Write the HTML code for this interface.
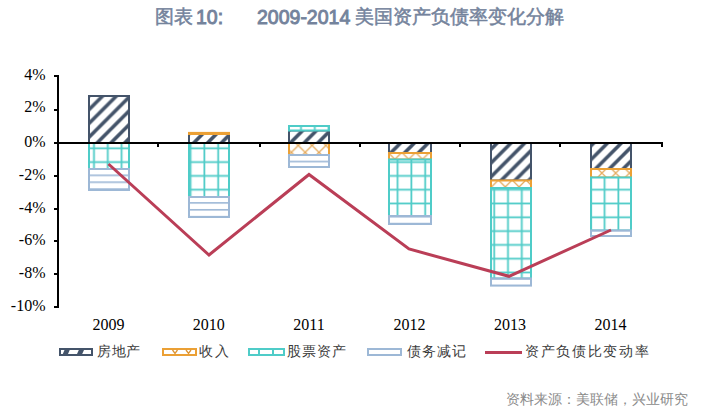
<!DOCTYPE html>
<html><head><meta charset="utf-8"><style>
html,body{margin:0;padding:0;background:#fff;}
body{width:702px;height:411px;overflow:hidden;position:relative;}
svg{position:absolute;left:0;top:0;}
.serif{font-family:"Liberation Serif",serif;font-size:16px;fill:#000;}
.t{position:absolute;white-space:nowrap;font-family:"Liberation Sans",sans-serif;}
</style></head><body>
<svg width="702" height="411" viewBox="0 0 702 411">
<defs>
<pattern id="ph" patternUnits="userSpaceOnUse" width="13.8" height="13.8">
<rect width="13.8" height="13.8" fill="#fff"/><path d="M2.90,0 L7.90,0 L-5.90,13.8 L-10.90,13.8Z M16.70,0 L21.70,0 L7.90,13.8 L2.90,13.8Z M30.50,0 L35.50,0 L21.70,13.8 L16.70,13.8Z" fill="#44546A"/></pattern>
<pattern id="pt" patternUnits="userSpaceOnUse" width="13.8" height="13.8">
<rect width="13.8" height="13.8" fill="#fff"/><rect x="10.3" y="0" width="1.8" height="13.8" fill="#4FCCC8"/><rect x="0" y="9.4" width="13.8" height="1.8" fill="#4FCCC8"/></pattern>
<pattern id="pl" patternUnits="userSpaceOnUse" width="13.8" height="6.9">
<rect width="13.8" height="6.9" fill="#fff"/><rect x="0" y="2.0" width="13.8" height="1.6" fill="#9DB8D6"/></pattern>
<pattern id="po" patternUnits="userSpaceOnUse" width="13.8" height="13.8" x="1.6" y="0.6">
<rect width="13.8" height="13.8" fill="#fff"/>
<path d="M0,0 L13.8,13.8 M-6.9,6.9 L6.9,20.700000000000003 M6.9,-6.9 L20.700000000000003,6.9 M13.8,0 L0,13.8 M20.700000000000003,6.9 L6.9,20.700000000000003 M6.9,-6.9 L-6.9,6.9" stroke="#DE9534" stroke-width="1.3" opacity="0.8"/></pattern>
</defs>
<rect x="89" y="96" width="40" height="47" fill="url(#ph)" stroke="#44546A" stroke-width="2"/><rect x="189" y="134" width="40" height="9" fill="url(#ph)" stroke="#44546A" stroke-width="2"/><rect x="289" y="130.5" width="40" height="12.5" fill="url(#ph)" stroke="#44546A" stroke-width="2"/><rect x="389" y="143" width="42" height="10" fill="url(#ph)" stroke="#44546A" stroke-width="2"/><rect x="491" y="143" width="40" height="37.5" fill="url(#ph)" stroke="#44546A" stroke-width="2"/><rect x="591" y="143" width="40" height="26" fill="url(#ph)" stroke="#44546A" stroke-width="2"/><rect x="189" y="132.9" width="40" height="1.0999999999999943" fill="url(#po)" stroke="#EBA035" stroke-width="2"/><rect x="289" y="143" width="40" height="12" fill="url(#po)" stroke="#EBA035" stroke-width="2"/><rect x="389" y="153" width="42" height="6.5" fill="url(#po)" stroke="#EBA035" stroke-width="2"/><rect x="491" y="180.5" width="40" height="7.5" fill="url(#po)" stroke="#EBA035" stroke-width="2"/><rect x="591" y="169" width="40" height="8.5" fill="url(#po)" stroke="#EBA035" stroke-width="2"/><rect x="89" y="143" width="40" height="26" fill="url(#pt)" stroke="#4FCCC8" stroke-width="2"/><rect x="189" y="143" width="40" height="54" fill="url(#pt)" stroke="#4FCCC8" stroke-width="2"/><rect x="289" y="126" width="40" height="4.5" fill="url(#pt)" stroke="#4FCCC8" stroke-width="2"/><rect x="389" y="159.5" width="42" height="56.5" fill="url(#pt)" stroke="#4FCCC8" stroke-width="2"/><rect x="491" y="188" width="40" height="90.5" fill="url(#pt)" stroke="#4FCCC8" stroke-width="2"/><rect x="591" y="177.5" width="40" height="53.0" fill="url(#pt)" stroke="#4FCCC8" stroke-width="2"/><rect x="89" y="169" width="40" height="21" fill="url(#pl)" stroke="#9DB8D6" stroke-width="2"/><rect x="189" y="197" width="40" height="20" fill="url(#pl)" stroke="#9DB8D6" stroke-width="2"/><rect x="289" y="155" width="40" height="12" fill="url(#pl)" stroke="#9DB8D6" stroke-width="2"/><rect x="389" y="216" width="42" height="8" fill="url(#pl)" stroke="#9DB8D6" stroke-width="2"/><rect x="491" y="278.5" width="40" height="7.100000000000023" fill="url(#pl)" stroke="#9DB8D6" stroke-width="2"/><rect x="591" y="230.5" width="40" height="5.5" fill="url(#pl)" stroke="#9DB8D6" stroke-width="2"/>
<rect x="57" y="75" width="2" height="233" fill="#000"/>
<rect x="54" y="75" width="4" height="2" fill="#000"/><rect x="54" y="109" width="4" height="2" fill="#000"/><rect x="54" y="142" width="4" height="2" fill="#000"/><rect x="54" y="175" width="4" height="2" fill="#000"/><rect x="54" y="208" width="4" height="2" fill="#000"/><rect x="54" y="240" width="4" height="2" fill="#000"/><rect x="54" y="273" width="4" height="2" fill="#000"/><rect x="54" y="306" width="4" height="2" fill="#000"/>
<rect x="54" y="142" width="609" height="2" fill="#000"/>
<rect x="157" y="142" width="2" height="5" fill="#000"/><rect x="259" y="142" width="2" height="5" fill="#000"/><rect x="359" y="142" width="2" height="5" fill="#000"/><rect x="459" y="142" width="2" height="5" fill="#000"/><rect x="559" y="142" width="2" height="5" fill="#000"/><rect x="661" y="142" width="2" height="5" fill="#000"/>
<polyline points="108.5,164 209,255 309,174.5 409,249 509,276.3 611,230" fill="none" stroke="#BA3E57" stroke-width="3" stroke-linejoin="miter"/>
<g class="serif"><text x="45.5" y="79.8" text-anchor="end">4%</text><text x="45.5" y="112.1" text-anchor="end">2%</text><text x="45.5" y="146.8" text-anchor="end">0%</text><text x="45.5" y="179.8" text-anchor="end">-2%</text><text x="45.5" y="212.8" text-anchor="end">-4%</text><text x="45.5" y="244.8" text-anchor="end">-6%</text><text x="45.5" y="277.8" text-anchor="end">-8%</text><text x="45.5" y="310.8" text-anchor="end">-10%</text><text x="108.5" y="330" text-anchor="middle">2009</text><text x="208.7" y="330" text-anchor="middle">2010</text><text x="309" y="330" text-anchor="middle">2011</text><text x="409.5" y="330" text-anchor="middle">2012</text><text x="510" y="330" text-anchor="middle">2013</text><text x="610.5" y="330" text-anchor="middle">2014</text></g>
<!-- legend -->
<rect x="60" y="349" width="32" height="6" fill="#fff" stroke="#44546A" stroke-width="2"/><path d="M62.8,354 L68,354 L69.7,350 L64.5,350Z M77,354 L82.2,354 L84,350 L78.8,350Z" fill="#44546A"/>
<rect x="163" y="349" width="33" height="6" fill="#fff" stroke="#EBA035" stroke-width="2"/><path d="M172.5,350 L175,353.5 L177.5,350 M186,350 L188.5,353.5 L191,350" fill="none" stroke="#DE9534" stroke-width="1.3"/>
<rect x="249" y="349" width="35" height="6" fill="#fff" stroke="#4FCCC8" stroke-width="2"/><rect x="258" y="349" width="2" height="6" fill="#4FCCC8"/><rect x="272" y="349" width="2" height="6" fill="#4FCCC8"/>
<rect x="368" y="349" width="33" height="6" fill="#fff" stroke="#9DB8D6" stroke-width="2"/>
<rect x="485" y="351" width="37" height="3" fill="#BA3E57"/>
<g font-family="Liberation Sans, sans-serif" font-weight="bold" fill="#74839C">
<text x="155" y="23.4" font-size="19" font-weight="normal" stroke="#74839C" stroke-width="0.5">图表</text>
<text x="196" y="23.8" font-size="19.5" font-weight="normal" stroke="#74839C" stroke-width="0.9">10:</text>
<text x="257" y="23.8" font-size="19.5" font-weight="normal" stroke="#74839C" stroke-width="0.9">2009-2014</text>
<text x="355" y="23.4" font-size="19" font-weight="normal" stroke="#74839C" stroke-width="0.5">美国资产负债率变化分解</text>
</g>
<g font-family="Liberation Sans, sans-serif" font-size="14" fill="#3a3a3a">
<text x="97" y="356" letter-spacing="0.5">房地产</text>
<text x="199" y="356" letter-spacing="2">收入</text>
<text x="287" y="356" letter-spacing="1">股票资产</text>
<text x="407" y="356" letter-spacing="1">债务减记</text>
<text x="525" y="356" letter-spacing="1.7">资产负债比变动率</text>
</g>
<text x="505.5" y="404" font-family="Liberation Sans, sans-serif" font-size="13.6" fill="#8A8A8A">资料来源：美联储，兴业研究</text>
</svg>
</body></html>
